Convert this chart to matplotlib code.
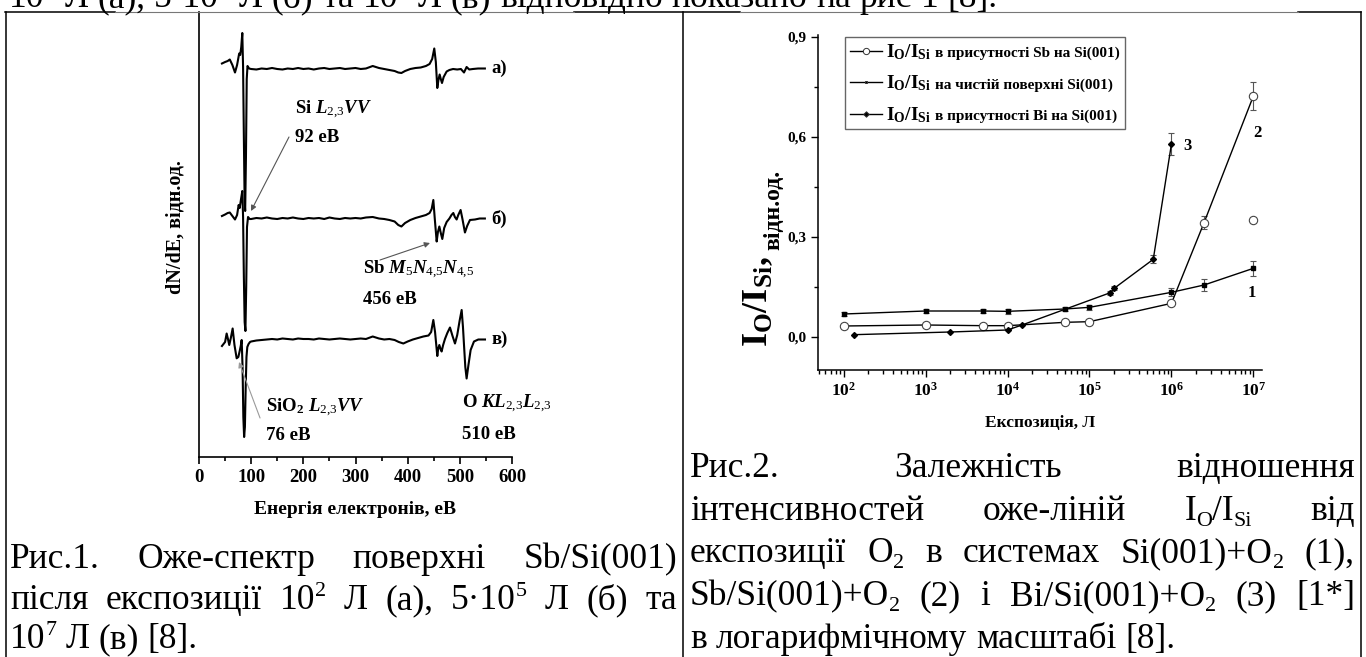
import re
import matplotlib.pyplot as plt
from matplotlib.lines import Line2D
from matplotlib.ticker import LogLocator, NullFormatter
from matplotlib.offsetbox import AnchoredOffsetbox, DrawingArea, HPacker, TextArea, VPacker

plt.rcParams['font.family'] = ['Liberation Serif', 'DejaVu Serif']
plt.rcParams['mathtext.fontset'] = 'custom'
plt.rcParams['mathtext.rm'] = 'Liberation Serif'
plt.rcParams['mathtext.it'] = 'Liberation Serif:italic:bold'
plt.rcParams['mathtext.bf'] = 'Liberation Serif:bold'

W, H = 1366, 657
B = 'bold'

# --- Оже-спектри (рис. 1), енергія в еВ, інтенсивність у довільних од. зі зсувом ---
e_a1 = [44, 50, 55, 59, 64, 69, 73, 77, 79, 81, 83, 84.5, 86, 87.5, 88.5, 90, 91.5, 93, 96]
v_a1 = [393.5, 395, 396, 397.5, 392, 384.5, 392, 403.5, 402, 410, 424, 390, 320, 255, 246, 300, 378, 391, 388.5]
e_a2 = [100, 110, 120, 130, 140, 150, 160, 170, 180, 190, 200, 210, 220, 230, 240, 250, 260, 270, 280, 290, 300, 310, 320]
v_a2 = [388, 387.5, 388.5, 388, 389, 388, 387.5, 388.5, 388, 389, 388, 388.5, 387.5, 388.5, 389, 388, 388.5, 389, 388,
        388.5, 389, 388, 388.5]
e_a3 = [333, 345, 355, 365, 375, 382, 388, 395, 405, 415, 425, 435, 442, 447, 451, 454, 456.8, 459, 461.3, 463.5,
        465.8, 469, 474.7, 480, 487, 495, 502, 508, 513, 518, 525, 535, 548]
v_a3 = [391, 389, 388, 387, 386, 384.5, 384, 386, 388, 389, 389.5, 391, 393, 398, 408.5, 395, 369, 377, 382.5, 378,
        374, 380, 385.5, 387, 388, 387.5, 388, 384.5, 390, 387.5, 388, 388.5, 388.5]

e_b1 = [44, 50, 55, 59, 64, 69, 73, 76, 78, 80, 83, 84.5, 86, 87.5, 89, 90.5, 92, 94, 97]
v_b1 = [241, 242.5, 244, 244.5, 241, 237.5, 242, 252, 249, 256, 266, 240, 180, 135, 126, 170, 230, 240, 238]
e_b2 = e_a2
v_b2 = [238, 239, 238.5, 239.5, 238.5, 238, 239, 238.5, 239.5, 238.5, 238, 239, 238.5, 239, 238, 239.5, 238.5, 238,
        239, 238.5, 239, 238.5, 239.5]
e_b3 = [333, 345, 355, 365, 375, 382, 388, 395, 405, 415, 425, 435, 442, 446, 449.2, 452, 455.6, 458, 460.7, 463.5,
        466.4, 470, 474.7, 480, 484, 487.5, 490.5, 493.9, 497, 501.5, 505, 509.8, 514, 519.4, 529, 538, 548]
v_b3 = [240, 238.5, 238, 237, 235.5, 232, 230.5, 234, 237, 239, 240.5, 242, 244, 248, 257, 238, 215.5, 225, 230.5, 224,
        218, 229, 235, 238.5, 242, 244, 240, 237.5, 242, 247, 238, 224.5, 231, 237, 237.5, 238.5, 238.5]

e_c1 = [44, 50, 53, 55.5, 58, 61, 64.5, 68, 72.2, 75.4, 78, 80, 81.8, 83.5, 85, 86.5, 88, 89.5, 91, 92.6, 95, 97.8]
v_c1 = [111, 115, 123.5, 118, 112, 119, 128.5, 112, 98.7, 100, 106, 111, 117, 90, 40, 20, 30, 70, 100, 110, 113, 115]
e_c2 = e_a2
v_c2 = [115.5, 116.5, 117, 117.5, 118, 117.5, 118.5, 118, 117.5, 118.5, 118, 118, 117.5, 118.5, 118, 117.5, 118,
        118.5, 118, 117.5, 118, 118.5, 118]
e_c3 = [333, 345, 355, 365, 375, 383, 391.7, 400, 410, 420, 430, 440, 445, 449.2, 452.5, 456.8, 458.5, 460.7, 463,
        465.1, 468, 471.5, 476, 481.1, 486, 490.7, 495, 499.5, 503.5, 506, 508, 510.5, 513, 516.5, 520.7, 527.1,
        535.4, 548.2]
v_c3 = [120.5, 118.5, 117.5, 118, 117, 115, 113.5, 115.5, 117.5, 119, 120.5, 121.5, 125, 137, 125, 101, 108, 112, 108,
        105.5, 112, 118, 124, 129.5, 121, 113.5, 122, 136, 147, 130, 112, 90, 78.5, 92, 107, 115.5, 117.5, 117.5]

spectra = [(e_a1 + e_a2 + e_a3, v_a1 + v_a2 + v_a3, 'а)'),
           (e_b1 + e_b2 + e_b3, v_b1 + v_b2 + v_b3, 'б)'),
           (e_c1 + e_c2 + e_c3, v_c1 + v_c2 + v_c3, 'в)')]
energy_ticks = [0, 100, 200, 300, 400, 500, 600]

# --- відношення I_O/I_Si від експозиції (рис. 2) ---
exp_si = [1e2, 1e3, 5e3, 1e4, 5e4, 1e5, 1e6, 2.5e6, 1e7]
r_si = [0.068, 0.077, 0.077, 0.076, 0.083, 0.088, 0.133, 0.155, 0.205]
err_si = [0.007, 0.007, 0.007, 0.007, 0.007, 0.008, 0.012, 0.017, 0.022]

exp_sb = [1e2, 1e3, 5e3, 1e4, 5e4, 1e5, 1e6, 2.5e6, 1e7]
r_sb = [0.032, 0.035, 0.033, 0.033, 0.043, 0.045, 0.100, 0.342, 0.722]
err_sb = [0, 0, 0, 0, 0, 0, 0, 0.02, 0.043]
exp_sb_extra = [1e7]
r_sb_extra = [0.350]

exp_bi = [1.35e2, 2e3, 1e4, 1.5e4, 1.8e5, 2e5, 6e5, 1e6]
r_bi = [0.006, 0.014, 0.020, 0.035, 0.132, 0.145, 0.232, 0.578]
err_bi = [0, 0, 0, 0, 0.006, 0.006, 0.012, 0.034]

ratio_ticks = [0.0, 0.3, 0.6, 0.9]
exposure_ticks = [1e2, 1e3, 1e4, 1e5, 1e6, 1e7]

fig = plt.figure(figsize=(W / 100, H / 100), dpi=100)
renderer = fig.canvas.get_renderer()


def fx(px):
    return px / W


def fy(py):
    return 1 - py / H


# ---------------- рис. 1 ----------------
ax1 = fig.add_axes([fx(199), fy(457), 313 / W, 445 / H])
for e, v, name in spectra:
    ax1.plot(e, v, color='k', lw=1.5)
    ax1.text(e[-1] + 13, v[-1], name, fontsize=13.5, fontweight=B, va='center')

ax1.set_xlim(0, 600)
ax1.set_ylim(0, 445)
ax1.spines[['top', 'right']].set_visible(False)
ax1.spines[['left', 'bottom']].set_linewidth(1.2)
ax1.set_yticks([])
ax1.set_xticks(energy_ticks, labels=[str(t) for t in energy_ticks], fontweight=B)
ax1.set_xticks([t + 50 for t in energy_ticks[:-1]], minor=True)
ax1.tick_params(axis='x', which='major', length=5, width=1.2, labelsize=13.5, pad=4)
ax1.tick_params(axis='x', which='minor', length=3, width=1.2)
ax1.set_xlabel('Енергія електронів, еВ', fontsize=14, fontweight=B)
ax1.xaxis.set_label_coords(0.5, -(510 - 457) / 445)
ax1.xaxis.label.set_va('center')
ax1.set_ylabel('dN/dE, відн.од.', fontsize=14.5, fontweight=B)
ax1.yaxis.set_label_coords(-(199 - 176) / 313, (457 - 227) / 445)
ax1.yaxis.label.set_va('center')

lbl = dict(fontsize=13.5, fontweight=B, va='center')
ax1.text(184, 347, r'Si $\mathit{L}_{\mathit{2{,}3}}\mathit{VV}$', **lbl)
ax1.text(184, 319, '92 еВ', **lbl)
ax1.text(313.7, 187, r'Sb $\mathit{M}_{\mathit{5}}\mathit{N}_{\mathit{4{,}5}}\mathit{N}_{\mathit{4{,}5}}$', **lbl)
ax1.text(313.7, 157, '456 еВ', **lbl)
ax1.text(128.4, 49, r'SiO$_{\mathbf{2}}$ $\mathit{L}_{\mathit{2{,}3}}\mathit{VV}$', **lbl)
ax1.text(128.4, 22, '76 еВ', **lbl)
ax1.text(503.5, 53, r'O $\mathit{KL}_{\mathit{2{,}3}}\mathit{L}_{\mathit{2{,}3}}$', **lbl)
ax1.text(503.5, 22.7, '510 еВ', **lbl)

arr = dict(arrowstyle='-|>', color='#555555', lw=0.8, mutation_scale=8, shrinkA=0, shrinkB=0)
ax1.annotate('', xy=(99.7, 246), xytext=(172.5, 320), arrowprops=arr)
ax1.annotate('', xy=(442.8, 214), xytext=(347, 197), arrowprops=arr)
ax1.annotate('', xy=(76.7, 95), xytext=(117, 39), arrowprops=dict(arr, color='#9a9a9a'))

# ---------------- рис. 2 ----------------
ax2 = fig.add_axes([fx(818), fy(370), 444 / W, 335 / H])
ax2.set_xscale('log')

bar = dict(fmt='none', ecolor='#555555', elinewidth=0.8, capsize=2.5, capthick=0.8)
ax2.errorbar(exp_si, r_si, yerr=err_si, **bar)
ax2.plot(exp_si, r_si, color='k', lw=1, marker='s', ms=2.5)

sb_e = [x for x, s in zip(exp_sb, err_sb) if s > 0]
sb_r = [y for y, s in zip(r_sb, err_sb) if s > 0]
sb_s = [s for s in err_sb if s > 0]
ax2.errorbar(sb_e, sb_r, yerr=sb_s, **bar)
ax2.plot(exp_sb, r_sb, color='k', lw=1, marker='o', ms=6, mfc='white', mec='#444444', mew=0.8)
ax2.plot(exp_sb_extra, r_sb_extra, ls='none', marker='o', ms=6, mfc='white', mec='#444444', mew=0.8)

bi_e = [x for x, s in zip(exp_bi, err_bi) if s > 0]
bi_r = [y for y, s in zip(r_bi, err_bi) if s > 0]
bi_s = [s for s in err_bi if s > 0]
ax2.errorbar(bi_e, bi_r, yerr=bi_s, **bar)
ax2.plot(exp_bi, r_bi, color='k', lw=1, marker='D', ms=3)

num = dict(fontsize=12, fontweight=B, ha='center', va='center')
ax2.text(9.5e6, 0.131, '1', **num)
ax2.text(1.12e7, 0.611, '2', **num)
ax2.text(1.57e6, 0.572, '3', **num)

ax2.set_xlim(10 ** 1.687, 10 ** 7.105)
ax2.set_ylim(-0.1, 0.905)
ax2.spines[['top', 'right']].set_visible(False)
ax2.spines[['left', 'bottom']].set_linewidth(1.1)
ax2.set_xticks(exposure_ticks, labels=[r'$\mathbf{10^{%d}}$' % k for k in range(2, 8)])
ax2.xaxis.set_minor_locator(LogLocator(base=10, subs=range(2, 10), numticks=20))
ax2.xaxis.set_minor_formatter(NullFormatter())
ax2.set_yticks(ratio_ticks, labels=[f'{v:.1f}'.replace('.', ',') for v in ratio_ticks], fontweight=B)
ax2.set_yticks([0.15, 0.45, 0.75], minor=True)
ax2.tick_params(which='major', length=5, width=1, labelsize=11)
ax2.tick_params(axis='x', which='major', labelsize=12.5)
ax2.tick_params(which='minor', length=3, width=1)
ax2.set_xlabel('Експозиція, Л', fontsize=12.5, fontweight=B)
ax2.xaxis.set_label_coords(0.5, -(423 - 370) / 335)
ax2.xaxis.label.set_va('center')

# підпис осі y: велике I_O/I_Si і дрібне «відн.од.» одне за одним
ylab_big = fig.text(fx(767), fy(347), r'I$_\mathbf{O}$/I$_\mathbf{Si}$,', fontsize=26, fontweight=B,
                    rotation=90, rotation_mode='anchor', ha='left', va='baseline')
big_top = ylab_big.get_window_extent(renderer).y1
fig.text(fx(779), (big_top + 6) / H, 'відн.од.', fontsize=17, fontweight=B, rotation=90,
         rotation_mode='anchor', ha='left', va='baseline')


def legend_row(marker, ms, mfc, rest):
    da = DrawingArea(23, 9, 0, 0)
    da.add_artist(Line2D([0, 23], [4.5, 4.5], color='k', lw=1))
    da.add_artist(Line2D([11.5], [4.5], marker=marker, ms=ms, mfc=mfc, mec='#333333', mew=0.7, ls='none'))
    big = TextArea(r'I$_\mathbf{O}$/I$_\mathbf{Si}$', textprops=dict(fontsize=14, fontweight=B))
    small = TextArea(rest, textprops=dict(fontsize=11, fontweight=B))
    return HPacker(children=[da, big, small], align='baseline', pad=0, sep=3)


rows = [legend_row('o', 4.5, 'white', 'в присутності Sb на Si(001)'),
        legend_row('s', 2, 'k', 'на чистій поверхні Si(001)'),
        legend_row('D', 2.8, 'k', 'в присутності Bi на Si(001)')]
leg = AnchoredOffsetbox(loc='upper left', child=VPacker(children=rows, align='left', pad=0, sep=8.5),
                        pad=0.35, borderpad=0, frameon=True,
                        bbox_to_anchor=((845 - 818) / 444, (370 - 37) / 335), bbox_transform=ax2.transAxes)
leg.patch.set_edgecolor('#666666')
leg.patch.set_linewidth(1)
ax2.add_artist(leg)

# ---------------- рамки таблиці ----------------
frame = dict(color='k', lw=1.1, transform=fig.transFigure)
for x0, x1 in ((5, 115), (574, 740), (1298, 1361)):
    fig.add_artist(Line2D([fx(x0), fx(x1)], [fy(12), fy(12)], **frame))
for x0, x1 in ((115, 574), (740, 1298)):
    # тут верхню лінію частково перекривають вставлені рисунки
    fig.add_artist(Line2D([fx(x0), fx(x1)], [fy(12), fy(12)], color='#777777', lw=0.8,
                          transform=fig.transFigure))
for px in (6, 683, 1361):
    fig.add_artist(Line2D([fx(px), fx(px)], [fy(12), 0], **frame))

# ---------------- підписи (текст документа) ----------------
cap = 25.5
em = cap * 100 / 72


def segments(word):
    # 'O_{2}' -> індекс, '10^{5}' -> степінь
    parts = re.split(r'([_^])\{([^}]*)\}', word)
    segs = [(parts[0], '')]
    for i in range(1, len(parts), 3):
        segs += [(parts[i + 1], parts[i]), (parts[i + 2], '')]
    return [s for s in segs if s[0]]


def make_word(word, py):
    items = []
    for s, role in segments(word):
        shift = {'': 0, '_': 0.16 * em, '^': -0.36 * em}[role]
        t = fig.text(0, fy(py + shift), s, fontsize=cap * (0.62 if role else 1), va='baseline')
        items.append((t, t.get_window_extent(renderer).width))
    return items


def put_line(text, x0, py, x1=None):
    words = text.split()
    built = [make_word(w, py) for w in words]
    widths = [sum(w for _, w in b) for b in built]
    gap = 0.25 * em if x1 is None else (x1 - x0 - sum(widths)) / (len(words) - 1)
    x = x0
    for b, wd in zip(built, widths):
        xx = x
        for t, w in b:
            t.set_x(fx(xx))
            xx += w
        x += wd + gap


# обрізаний край попереднього рядка тексту сторінки
put_line('10^{2} Л (а), 5·10^{5} Л (б) та 10^{7} Л (в) відповідно показано на рис 1 [8].', 9, 7)

put_line('Рис.1. Оже-спектр поверхні Sb/Si(001)', 10, 568, 677)
put_line('після експозиції 10^{2} Л (а), 5·10^{5} Л (б) та', 10, 609, 677)
put_line('10^{7} Л (в) [8].', 10, 648)

put_line('Рис.2. Залежність відношення', 690, 477, 1355)
put_line('інтенсивностей оже-ліній I_{O}/I_{Si} від', 690, 520, 1355)
put_line('експозиції O_{2} в системах Si(001)+O_{2} (1),', 690, 562, 1355)
put_line('Sb/Si(001)+O_{2} (2) і Bi/Si(001)+O_{2} (3) [1*]', 690, 605, 1355)
put_line('в логарифмічному масштабі [8].', 690, 648)

fig.savefig('out.png', dpi=100)
